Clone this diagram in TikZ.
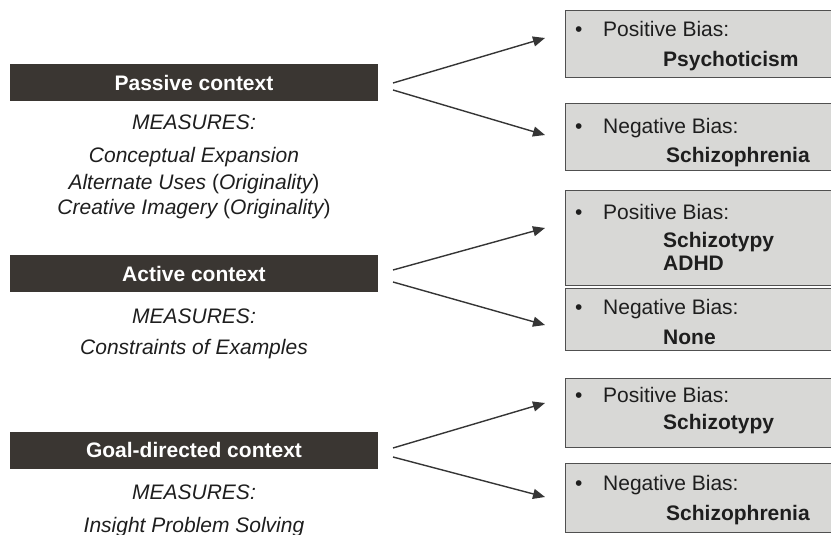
\documentclass[tikz,border=0pt]{standalone}
\usepackage{fontspec}
\setmainfont{Liberation Sans}
\usetikzlibrary{arrows.meta}
\pgfdeclarelayer{edgelayer}
\pgfdeclarelayer{nodelayer}
\pgfsetlayers{edgelayer,nodelayer,main}
\definecolor{barbrown}{RGB}{58,54,50}
\definecolor{boxgrey}{RGB}{216,216,214}
\definecolor{edgegrey}{RGB}{80,80,80}
\definecolor{inkgrey}{RGB}{30,30,30}
\tikzstyle{none}=[inner sep=0pt]
\tikzstyle{context}=[rectangle,fill=barbrown,text=white,inner sep=0pt,minimum width=368pt,minimum height=37pt,font=\fontsize{21}{24}\selectfont\bfseries]
\tikzstyle{measure}=[inner sep=0pt,anchor=base,text=inkgrey,font=\fontsize{21}{24}\selectfont\itshape]
\tikzstyle{bias}=[rectangle,anchor=north west,fill=boxgrey,draw=edgegrey,line width=1.3pt,minimum width=280pt]
\tikzstyle{biastext}=[inner sep=0pt,anchor=base west,text=inkgrey,font=\fontsize{21}{24}\selectfont]
\tikzstyle{biasitem}=[inner sep=0pt,anchor=base west,text=inkgrey,font=\fontsize{21}{24}\selectfont\bfseries]
\tikzstyle{transition}=[-{Triangle[length=12pt,width=10pt]},draw=inkgrey!90,line width=1.4pt]
\newcommand{\upp}[1]{{\upshape(}#1{\upshape)}}

\begin{document}
\begin{tikzpicture}[x=1pt,y=-1pt]
	\useasboundingbox (0,0) rectangle (831,535);
	\begin{pgfonlayer}{nodelayer}
		\node [style=context] (0) at (194, 82.5) {Passive context};
		\node [style=context] (1) at (194, 273.5) {Active context};
		\node [style=context] (2) at (194, 450) {Goal-directed context};
		\node [style=measure] (3) at (194, 130) {MEASURES:};
		\node [style=measure] (4) at (194, 162) {Conceptual Expansion};
		\node [style=measure] (5) at (194, 189) {Alternate Uses \upp{Originality}};
		\node [style=measure] (6) at (194, 214) {Creative Imagery \upp{Originality}};
		\node [style=measure] (7) at (194, 323) {MEASURES:};
		\node [style=measure] (8) at (194, 354) {Constraints of Examples};
		\node [style=measure] (9) at (194, 499) {MEASURES:};
		\node [style=measure] (10) at (194, 532) {Insight Problem Solving};
		\node [style=bias, minimum height=67pt] (11) at (565, 10) {};
		\node [style=bias, minimum height=67pt] (12) at (565, 103) {};
		\node [style=bias, minimum height=95pt] (13) at (565, 190) {};
		\node [style=bias, minimum height=62pt] (14) at (565, 288) {};
		\node [style=bias, minimum height=69pt] (15) at (565, 378) {};
		\node [style=bias, minimum height=69pt] (16) at (565, 463) {};
		\node [style=biastext] (17) at (575, 37) {•};
		\node [style=biastext] (18) at (603, 37) {Positive Bias:};
		\node [style=biasitem] (19) at (663, 67) {Psychoticism};
		\node [style=biastext] (20) at (575, 134) {•};
		\node [style=biastext] (21) at (603, 134) {Negative Bias:};
		\node [style=biasitem] (22) at (666, 162) {Schizophrenia};
		\node [style=biastext] (23) at (575, 219) {•};
		\node [style=biastext] (24) at (603, 219) {Positive Bias:};
		\node [style=biasitem] (25) at (663, 247) {Schizotypy};
		\node [style=biasitem] (26) at (663, 270) {ADHD};
		\node [style=biastext] (27) at (575, 314) {•};
		\node [style=biastext] (28) at (603, 314) {Negative Bias:};
		\node [style=biasitem] (29) at (663, 344) {None};
		\node [style=biastext] (30) at (575, 402) {•};
		\node [style=biastext] (31) at (603, 402) {Positive Bias:};
		\node [style=biasitem] (32) at (663, 429) {Schizotypy};
		\node [style=biastext] (33) at (575, 490) {•};
		\node [style=biastext] (34) at (603, 490) {Negative Bias:};
		\node [style=biasitem] (35) at (666, 520) {Schizophrenia};
		\node [style=none] (40) at (393, 83) {};
		\node [style=none] (41) at (393, 90) {};
		\node [style=none] (42) at (545, 38) {};
		\node [style=none] (43) at (545, 135) {};
		\node [style=none] (44) at (393, 270) {};
		\node [style=none] (45) at (393, 282) {};
		\node [style=none] (46) at (545, 228) {};
		\node [style=none] (47) at (545, 325) {};
		\node [style=none] (48) at (393, 448) {};
		\node [style=none] (49) at (393, 457) {};
		\node [style=none] (50) at (545, 403) {};
		\node [style=none] (51) at (545, 497) {};
	\end{pgfonlayer}
	\begin{pgfonlayer}{edgelayer}
		\draw [style=transition] (40.center) to (42.center);
		\draw [style=transition] (41.center) to (43.center);
		\draw [style=transition] (44.center) to (46.center);
		\draw [style=transition] (45.center) to (47.center);
		\draw [style=transition] (48.center) to (50.center);
		\draw [style=transition] (49.center) to (51.center);
	\end{pgfonlayer}
\end{tikzpicture}
\end{document}
